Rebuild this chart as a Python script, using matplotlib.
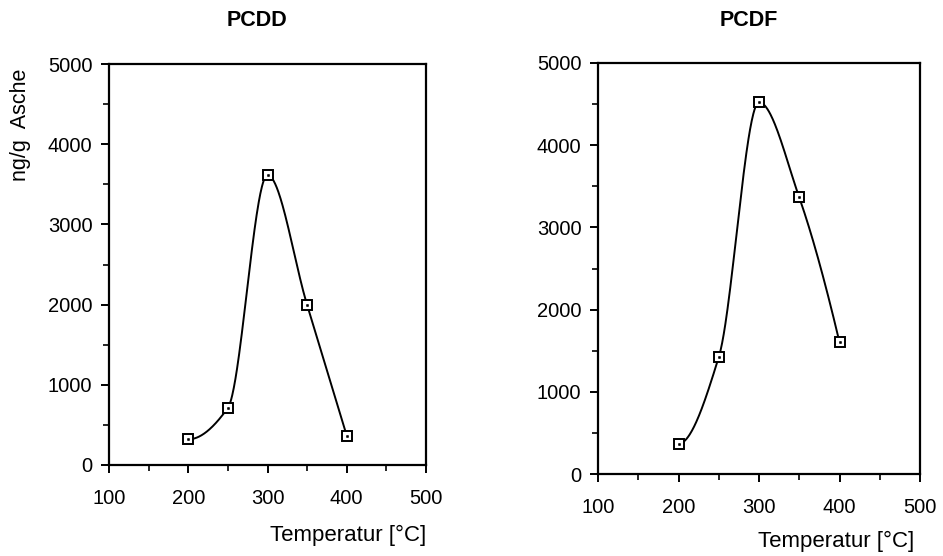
import numpy as np
import matplotlib
matplotlib.use("Agg")
import matplotlib.pyplot as plt
from matplotlib.ticker import MultipleLocator

temps = [200, 250, 300, 350, 400]
pcdd = [320, 712, 3615, 1995, 365]
pcdf = [364, 1421, 4522, 3364, 1603]
titles = ["PCDD", "PCDF"]
xticks = [100, 200, 300, 400, 500]
yticks = [0, 1000, 2000, 3000, 4000, 5000]

plt.rcParams['font.family'] = ['Liberation Sans', 'DejaVu Sans']


def pchip(x, y, xs):
    x = np.asarray(x, float)
    y = np.asarray(y, float)
    h = np.diff(x)
    d = np.diff(y) / h
    n = len(x)
    m = np.zeros(n)
    for k in range(1, n - 1):
        if d[k - 1] * d[k] <= 0:
            m[k] = 0.0
        else:
            w1 = 2 * h[k] + h[k - 1]
            w2 = h[k] + 2 * h[k - 1]
            m[k] = (w1 + w2) / (w1 / d[k - 1] + w2 / d[k])

    def end(h0, h1, d0, d1):
        s = ((2 * h0 + h1) * d0 - h0 * d1) / (h0 + h1)
        if np.sign(s) != np.sign(d0):
            s = 0.0
        elif np.sign(d0) != np.sign(d1) and abs(s) > abs(3 * d0):
            s = 3 * d0
        return s
    m[0] = end(h[0], h[1], d[0], d[1])
    m[-1] = end(h[-1], h[-2], d[-1], d[-2])
    ys = np.empty_like(xs)
    for i, xv in enumerate(xs):
        k = min(max(np.searchsorted(x, xv) - 1, 0), n - 2)
        t = (xv - x[k]) / h[k]
        h00 = 2 * t**3 - 3 * t**2 + 1
        h10 = t**3 - 2 * t**2 + t
        h01 = -2 * t**3 + 3 * t**2
        h11 = t**3 - t**2
        ys[i] = h00 * y[k] + h10 * h[k] * m[k] + h01 * y[k + 1] + h11 * h[k] * m[k + 1]
    return ys


fig = plt.figure(figsize=(9.43, 5.56), dpi=100)
W, H = 943, 556
boxes = [(109, 64, 426, 465), (598, 63, 920, 474)]
series = [pcdd, pcdf]
title_pos = [(257, 21), (749, 20)]
xlabel_pos = [(426, 535), (914, 541)]

for i, (l, t, r, b) in enumerate(boxes):
    ax = fig.add_axes([l / W, 1 - b / H, (r - l) / W, (b - t) / H])
    xs = np.linspace(temps[0], temps[-1], 300)
    ax.plot(xs, pchip(temps, series[i], xs), color='black', lw=1.4, zorder=2)
    ax.plot(temps, series[i], linestyle='none', marker='s', ms=7,
            mfc='white', mec='black', mew=1.4, zorder=3)
    ax.plot(temps, series[i], linestyle='none', marker='s', ms=1.3,
            mfc='black', mec='black', mew=0.5, zorder=4)
    ax.set_xlim(100, 500)
    ax.set_ylim(0, 5000)
    ax.set_xticks(xticks)
    ax.set_yticks(yticks)
    ax.xaxis.set_minor_locator(MultipleLocator(50))
    ax.yaxis.set_minor_locator(MultipleLocator(500))
    ax.tick_params(which='major', direction='out', length=6, width=1.4,
                   labelsize=14.5, color='black')
    ax.tick_params(which='minor', direction='out', length=4, width=1.2)
    ax.tick_params(axis='x', which='major', pad=11)
    ax.tick_params(axis='y', which='major', pad=6)
    for s in ax.spines.values():
        s.set_linewidth(1.6)
    fig.text(title_pos[i][0] / W, 1 - title_pos[i][1] / H, titles[i],
             ha='center', va='center', fontsize=15.5, fontweight='bold')
    fig.text(xlabel_pos[i][0] / W, 1 - xlabel_pos[i][1] / H, 'Temperatur [°C]',
             ha='right', va='center', fontsize=16)

fig.text(21 / W, 1 - 125 / H, 'ng/g  Asche', rotation=90, ha='center',
         va='center', fontsize=15.5)

fig.savefig('out.png', dpi=100)
